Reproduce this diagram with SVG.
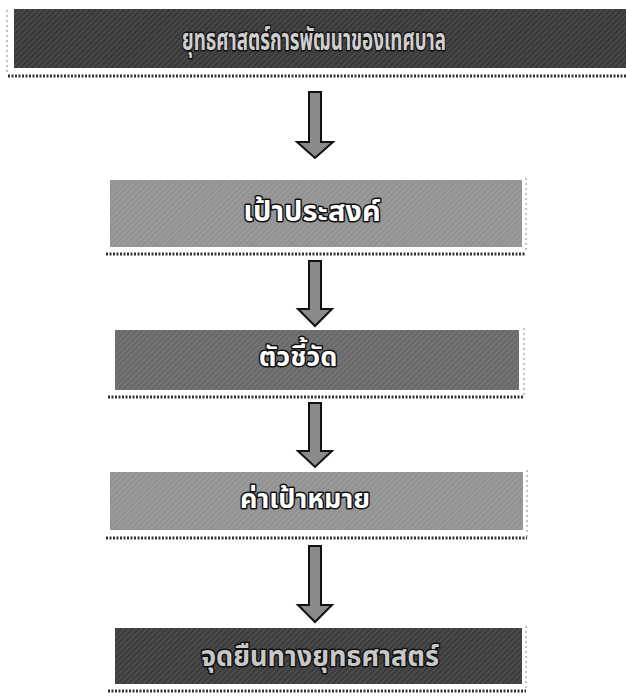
<svg xmlns="http://www.w3.org/2000/svg" width="626" height="696" viewBox="0 0 626 696">
<style>
.lbl{font-family:"Noto Sans Thai","Noto Sans","DejaVu Sans",sans-serif;font-weight:bold;text-anchor:middle;dominant-baseline:central;paint-order:stroke;stroke:#111;stroke-width:3;stroke-linejoin:round}
.shadow{stroke:#333;stroke-width:3;stroke-dasharray:2 1.5;fill:none}
.edge{stroke:#888;stroke-width:1;stroke-dasharray:2 3;fill:none}
.arrow{fill:#8a8a8a;stroke:#111;stroke-width:2;stroke-linejoin:miter}
</style>
<defs>
<pattern id="tex" width="4" height="4" patternUnits="userSpaceOnUse" patternTransform="rotate(45)">
<rect width="4" height="4" fill="none"/>
<line x1="0" y1="0" x2="0" y2="4" stroke="#fff" stroke-opacity="0.18" stroke-width="1.2"/>
</pattern>
</defs>
<rect width="626" height="696" fill="#fff"/>
<g id="node1">
<rect x="14" y="9" width="612" height="59" fill="#3a3a3a"/>
<rect x="14" y="9" width="612" height="59" fill="url(#tex)"/>
<line class="shadow" x1="8" y1="76" x2="626" y2="76"/>
<line class="edge" x1="7" y1="10" x2="7" y2="74"/>
<text class="lbl" x="314" y="41" font-size="30" fill="#cfcfcf" textLength="264" lengthAdjust="spacingAndGlyphs">ยุทธศาสตร์การพัฒนาของเทศบาล</text>
</g>
<g id="node2">
<rect x="110" y="180" width="412" height="67" fill="#939393"/>
<rect x="110" y="180" width="412" height="67" fill="url(#tex)"/>
<line class="shadow" x1="106" y1="254" x2="526" y2="254"/>
<line class="edge" x1="526" y1="178" x2="526" y2="253"/>
<text class="lbl" x="312" y="212" font-size="29" fill="#fff">เป้าประสงค์</text>
</g>
<g id="node3">
<rect x="115" y="330" width="404" height="60" fill="#6a6a6a"/>
<rect x="115" y="330" width="404" height="60" fill="url(#tex)"/>
<line class="shadow" x1="108" y1="397" x2="524" y2="397"/>
<line class="edge" x1="524" y1="328" x2="524" y2="396"/>
<text class="lbl" x="298" y="357" font-size="27" fill="#fff">ตัวชี้วัด</text>
</g>
<g id="node4">
<rect x="110" y="472" width="413" height="58" fill="#939393"/>
<rect x="110" y="472" width="413" height="58" fill="url(#tex)"/>
<line class="shadow" x1="106" y1="538" x2="527" y2="538"/>
<line class="edge" x1="527" y1="470" x2="527" y2="537"/>
<text class="lbl" x="305" y="499" font-size="27" fill="#fff">ค่าเป้าหมาย</text>
</g>
<g id="node5">
<rect x="115" y="628" width="407" height="56" fill="#3e3e3e"/>
<rect x="115" y="628" width="407" height="56" fill="url(#tex)"/>
<line class="shadow" x1="108" y1="691" x2="526" y2="691"/>
<line class="edge" x1="526" y1="626" x2="526" y2="690"/>
<text class="lbl" x="320" y="657" font-size="28" fill="#c8c8c8" textLength="238" lengthAdjust="spacingAndGlyphs">จุดยืนทางยุทธศาสตร์</text>
</g>
<g id="connectors">
<polygon class="arrow" points="309,92 321,92 321,142 333,142 315,158 297,142 309,142"/>
<polygon class="arrow" points="309,261 321,261 321,309 332,309 315,326 298,309 309,309"/>
<polygon class="arrow" points="309,403 321,403 321,451 332,451 315,467 298,451 309,451"/>
<polygon class="arrow" points="309,546 321,546 321,605 332,605 315,622 298,605 309,605"/>
</g>
</svg>
